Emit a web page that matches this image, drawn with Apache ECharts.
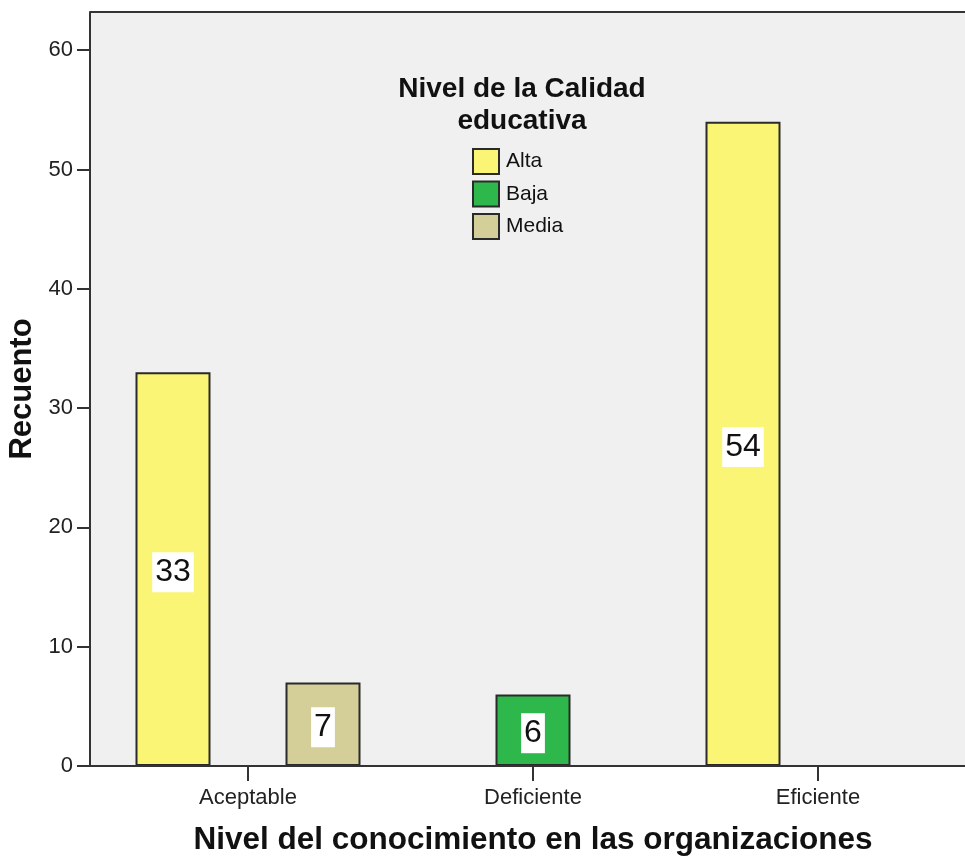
<!DOCTYPE html>
<html>
<head>
<meta charset="utf-8">
<script src="https://cdn.jsdelivr.net/npm/echarts@6/dist/echarts.min.js"></script>
<style>
html,body{margin:0;padding:0;background:#fff;}
#chart{width:965px;height:857px;}
</style>
</head>
<body>
<div id="chart"></div>
<script>
const categories = ['Aceptable', 'Deficiente', 'Eficiente'];
const seriesNames = ['Alta', 'Baja', 'Media'];
const altaValues = [33, null, 54];
const bajaValues = [null, 6, null];
const mediaValues = [7, null, null];
const yTickValues = [0, 10, 20, 30, 40, 50, 60];

const FONT = 'Liberation Sans, Arial, sans-serif';
const colors = ['#faf575', '#2eb84b', '#d4cf98'];

const chart = echarts.init(document.getElementById('chart'), null, {renderer: 'canvas'});

function makeSeries(name, data, color) {
  return {
    name: name,
    type: 'bar',
    data: data,
    barWidth: 75,
    barGap: '0%',
    z: 3,
    itemStyle: {color: color, borderColor: '#2a2a2a', borderWidth: 2},
    label: {
      show: true,
      position: 'inside',
      offset: [0, 3],
      fontFamily: FONT,
      fontSize: 32,
      color: '#111',
      backgroundColor: '#ffffff',
      padding: [4, 3, 4, 3]
    }
  };
}

const option = {
  animation: false,
  backgroundColor: '#ffffff',
  title: {
    text: 'Nivel de la Calidad\neducativa',
    left: 517,
    textAlign: 'center',
    top: 68,
    textStyle: {fontFamily: FONT, fontSize: 28, fontWeight: 'bold', color: '#111', lineHeight: 32}
  },
  legend: {
    data: seriesNames,
    orient: 'vertical',
    left: 467,
    top: 143,
    itemWidth: 26,
    itemHeight: 25,
    itemGap: 5.5,
    icon: 'rect',
    itemStyle: {borderColor: '#2a2a2a', borderWidth: 2},
    textStyle: {fontFamily: FONT, fontSize: 21, color: '#111', padding: [0, 0, 0, 2]}
  },
  graphic: [
    {type: 'rect', z: -10, silent: true, shape: {x: 90, y: 12, width: 875, height: 754}, style: {fill: '#f0f0f0'}},
    {type: 'line', z: 10, silent: true, shape: {x1: 90, y1: 12, x2: 965, y2: 12}, style: {stroke: '#333', lineWidth: 2}},
    {type: 'line', z: 10, silent: true, shape: {x1: 90, y1: 766, x2: 965, y2: 766}, style: {stroke: '#333', lineWidth: 2}}
  ],
  grid: {left: 105.5, right: 4.5, top: 12, bottom: 91, containLabel: false, outerBoundsMode: 'none'},
  xAxis: {
    type: 'category',
    data: categories,
    name: 'Nivel del conocimiento en las organizaciones',
    nameLocation: 'middle',
    nameGap: 58,
    nameTextStyle: {fontFamily: FONT, fontSize: 31.5, fontWeight: 'bold', color: '#111'},
    axisLine: {show: false},
    axisTick: {show: true, alignWithLabel: true, length: 15, lineStyle: {color: '#333', width: 2}},
    axisLabel: {fontFamily: FONT, fontSize: 22, color: '#222', margin: 21},
    splitLine: {show: false}
  },
  yAxis: {
    type: 'value',
    min: 0,
    max: 63.2,
    offset: 15.5,
    name: 'Recuento',
    nameLocation: 'middle',
    nameGap: 48,
    nameTextStyle: {fontFamily: FONT, fontSize: 31, fontWeight: 'bold', color: '#111'},
    axisLine: {show: true, lineStyle: {color: '#333', width: 2}},
    axisTick: {show: true, length: 13, customValues: yTickValues, lineStyle: {color: '#333', width: 2}},
    axisLabel: {fontFamily: FONT, fontSize: 22, color: '#222', margin: 17, customValues: yTickValues},
    splitLine: {show: false}
  },
  series: [
    makeSeries(seriesNames[0], altaValues, colors[0]),
    makeSeries(seriesNames[1], bajaValues, colors[1]),
    makeSeries(seriesNames[2], mediaValues, colors[2])
  ]
};

chart.setOption(option);
</script>
</body>
</html>
